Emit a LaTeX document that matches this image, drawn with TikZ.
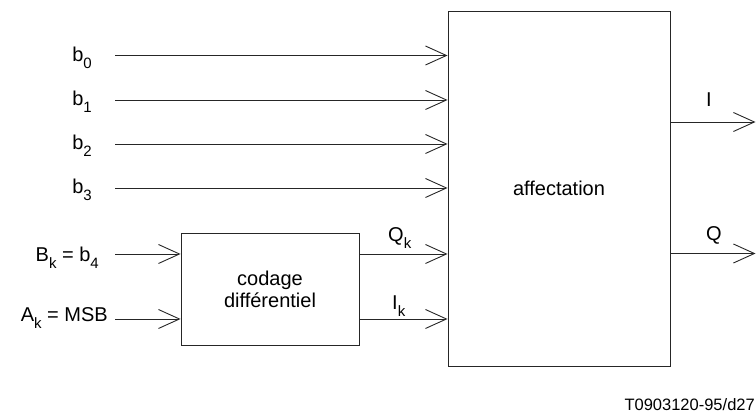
\documentclass[tikz,border=0pt]{standalone}
\usepackage{fontspec}
\setmainfont{Liberation Sans}
\usetikzlibrary{arrows.meta, positioning}
% indices abaissés comme sur le schéma
\newcommand{\indice}[1]{\raisebox{-7pt}{\fontsize{15}{15}\selectfont#1}}

\begin{document}
\begin{tikzpicture}[x=1pt, y=-1pt,
  font=\fontsize{20}{22}\selectfont,
  bloc/.style={rectangle, draw=black!85, line width=0.9pt, inner sep=0pt, align=center},
  fleche/.style={-{Straight Barb[length=21pt, width=19pt]}, line width=0.9pt, black!85},
  etiq/.style={inner sep=0pt}]
\useasboundingbox (0,0) rectangle (756,414);
\node[bloc, minimum width=222pt, minimum height=355pt] (affect) at (559,188.5) {affectation};
\node[bloc, minimum width=178pt, minimum height=112pt] (codage) at (270,289) {codage\\différentiel};
% bits d'entrée
\node[etiq, anchor=base east] (lb0) at (92,62) {b\indice{0}};
\node[etiq, anchor=base east] (lb1) at (92,106) {b\indice{1}};
\node[etiq, anchor=base east] (lb2) at (92,150) {b\indice{2}};
\node[etiq, anchor=base east] (lb3) at (92,194) {b\indice{3}};
\node[etiq, anchor=base east] (lBk) at (99,262) {B\indice{k} = b\indice{4}};
\node[etiq, anchor=base east] (lAk) at (108,322) {A\indice{k} = MSB};
\coordinate (e0) at (115,55.5);
\coordinate (e1) at (115,100);
\coordinate (e2) at (115,144);
\coordinate (e3) at (115,188);
\coordinate (eB) at (115,254);
\coordinate (eA) at (115,319);
\draw[fleche] (e0) -- (e0 -| affect.west);
\draw[fleche] (e1) -- (e1 -| affect.west);
\draw[fleche] (e2) -- (e2 -| affect.west);
\draw[fleche] (e3) -- (e3 -| affect.west);
\draw[fleche] (eB) -- (eB -| codage.west);
\draw[fleche] (eA) -- (eA -| codage.west);
% sorties du codage différentiel
\draw[fleche] (eB -| codage.east) -- (eB -| affect.west);
\draw[fleche] (eA -| codage.east) -- (eA -| affect.west);
\node[etiq, anchor=base west] (lQk) at (388,242) {Q\indice{k}};
\node[etiq, anchor=base west] (lIk) at (392,310) {I\indice{k}};
% sorties I et Q
\coordinate (sI) at (755.5,122);
\coordinate (sQ) at (755.5,253.5);
\draw[fleche] (sI -| affect.east) -- (sI);
\draw[fleche] (sQ -| affect.east) -- (sQ);
\node[etiq, anchor=base] (lI) at (709,107) {I};
\node[etiq, anchor=base] (lQ) at (714,241) {Q};
\node[etiq, anchor=base east, font=\fontsize{16.5}{18}\selectfont] (ref) at (755,410) {T0903120-95/d27};
\end{tikzpicture}
\end{document}
